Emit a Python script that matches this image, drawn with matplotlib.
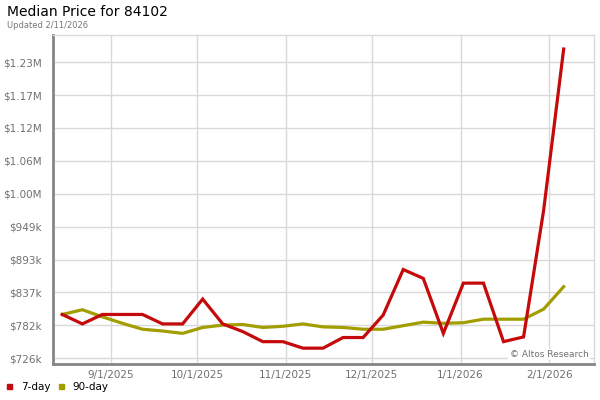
import matplotlib
matplotlib.use('Agg')
import matplotlib.pyplot as plt
import numpy as np
import datetime as dt

# weekly points, 8/15/2025 .. 2/6/2026
start = dt.date(2025, 8, 15)
dates = [start + dt.timedelta(days=7 * i) for i in range(26)]

day7 = [800, 784, 800, 800, 800, 784, 784, 826, 784, 771, 754, 754, 743,
        743, 761, 761, 799, 876, 861, 768, 853, 853, 754, 762, 976, 1249]
day90 = [800, 808, 796, 785, 775, 772, 768, 778, 782, 783, 778, 780, 784,
         779, 778, 775, 775, 781, 787, 785, 786, 792, 792, 792, 809, 847]

ytick_vals = [726000, 781650, 837300, 892950, 948600, 1004250, 1059900,
              1115550, 1171200, 1226850]
ytick_labels = ['$726k', '$782k', '$837k', '$893k', '$949k', '$1.00M',
                '$1.06M', '$1.12M', '$1.17M', '$1.23M']
month_ticks = [dt.date(2025, 9, 1), dt.date(2025, 10, 1), dt.date(2025, 11, 1),
               dt.date(2025, 12, 1), dt.date(2026, 1, 1), dt.date(2026, 2, 1)]
month_labels = ['9/1/2025', '10/1/2025', '11/1/2025', '12/1/2025',
                '1/1/2026', '2/1/2026']

red = '#c40a0a'
olive = '#a39e00'
grid = '#d9d9d9'
txt = '#707070'

plt.rcParams['font.family'] = 'DejaVu Sans'

fig = plt.figure(figsize=(6, 4), dpi=100)
ax = fig.add_axes([0.0875, 0.09, 0.9025, 0.8225])

ax.plot(dates, np.array(day90) * 1000, color=olive, lw=2.3, solid_joinstyle='miter')
ax.plot(dates, np.array(day7) * 1000, color=red, lw=2.3, solid_joinstyle='miter')

ax.set_xlim(dt.datetime(2025, 8, 11, 14), dt.datetime(2026, 2, 16, 14))
ax.set_ylim(716200, 1272700)

ax.set_yticks(ytick_vals)
ax.set_yticklabels(ytick_labels)
ax.set_xticks(month_ticks)
ax.set_xticklabels(month_labels)
ax.tick_params(axis='both', length=0, labelsize=7.5, colors=txt)
ax.tick_params(axis='y', pad=8)
ax.tick_params(axis='x', pad=4)

ax.grid(True, color=grid, lw=1)
ax.set_axisbelow(True)

for s in ['top', 'right']:
    ax.spines[s].set_color(grid)
    ax.spines[s].set_linewidth(1)
for s in ['left', 'bottom']:
    ax.spines[s].set_color('#858585')
    ax.spines[s].set_linewidth(2)

ax.text(0.99, 0.015, '\u00a9 Altos Research', transform=ax.transAxes,
        ha='right', va='bottom', fontsize=6.5, color=txt,
        bbox=dict(facecolor='white', edgecolor='none', pad=1))

fig.text(7 / 600, 1 - 12 / 400, 'Median Price for 84102', fontsize=10,
         color='black', va='center', ha='left')
fig.text(7 / 600, 1 - 25 / 400, 'Updated 2/11/2026', fontsize=6,
         color='#777777', va='center', ha='left')

# legend
fig.patches.append(plt.Rectangle((7 / 600, 1 - 389 / 400), 5 / 600, 5 / 400,
                                 transform=fig.transFigure, color=red))
fig.text(21 / 600, 1 - 386.5 / 400, '7-day', fontsize=7.5, va='center')
fig.patches.append(plt.Rectangle((59 / 600, 1 - 389 / 400), 5 / 600, 5 / 400,
                                 transform=fig.transFigure, color=olive))
fig.text(72 / 600, 1 - 386.5 / 400, '90-day', fontsize=7.5, va='center')

fig.savefig('out.png', dpi=100)
